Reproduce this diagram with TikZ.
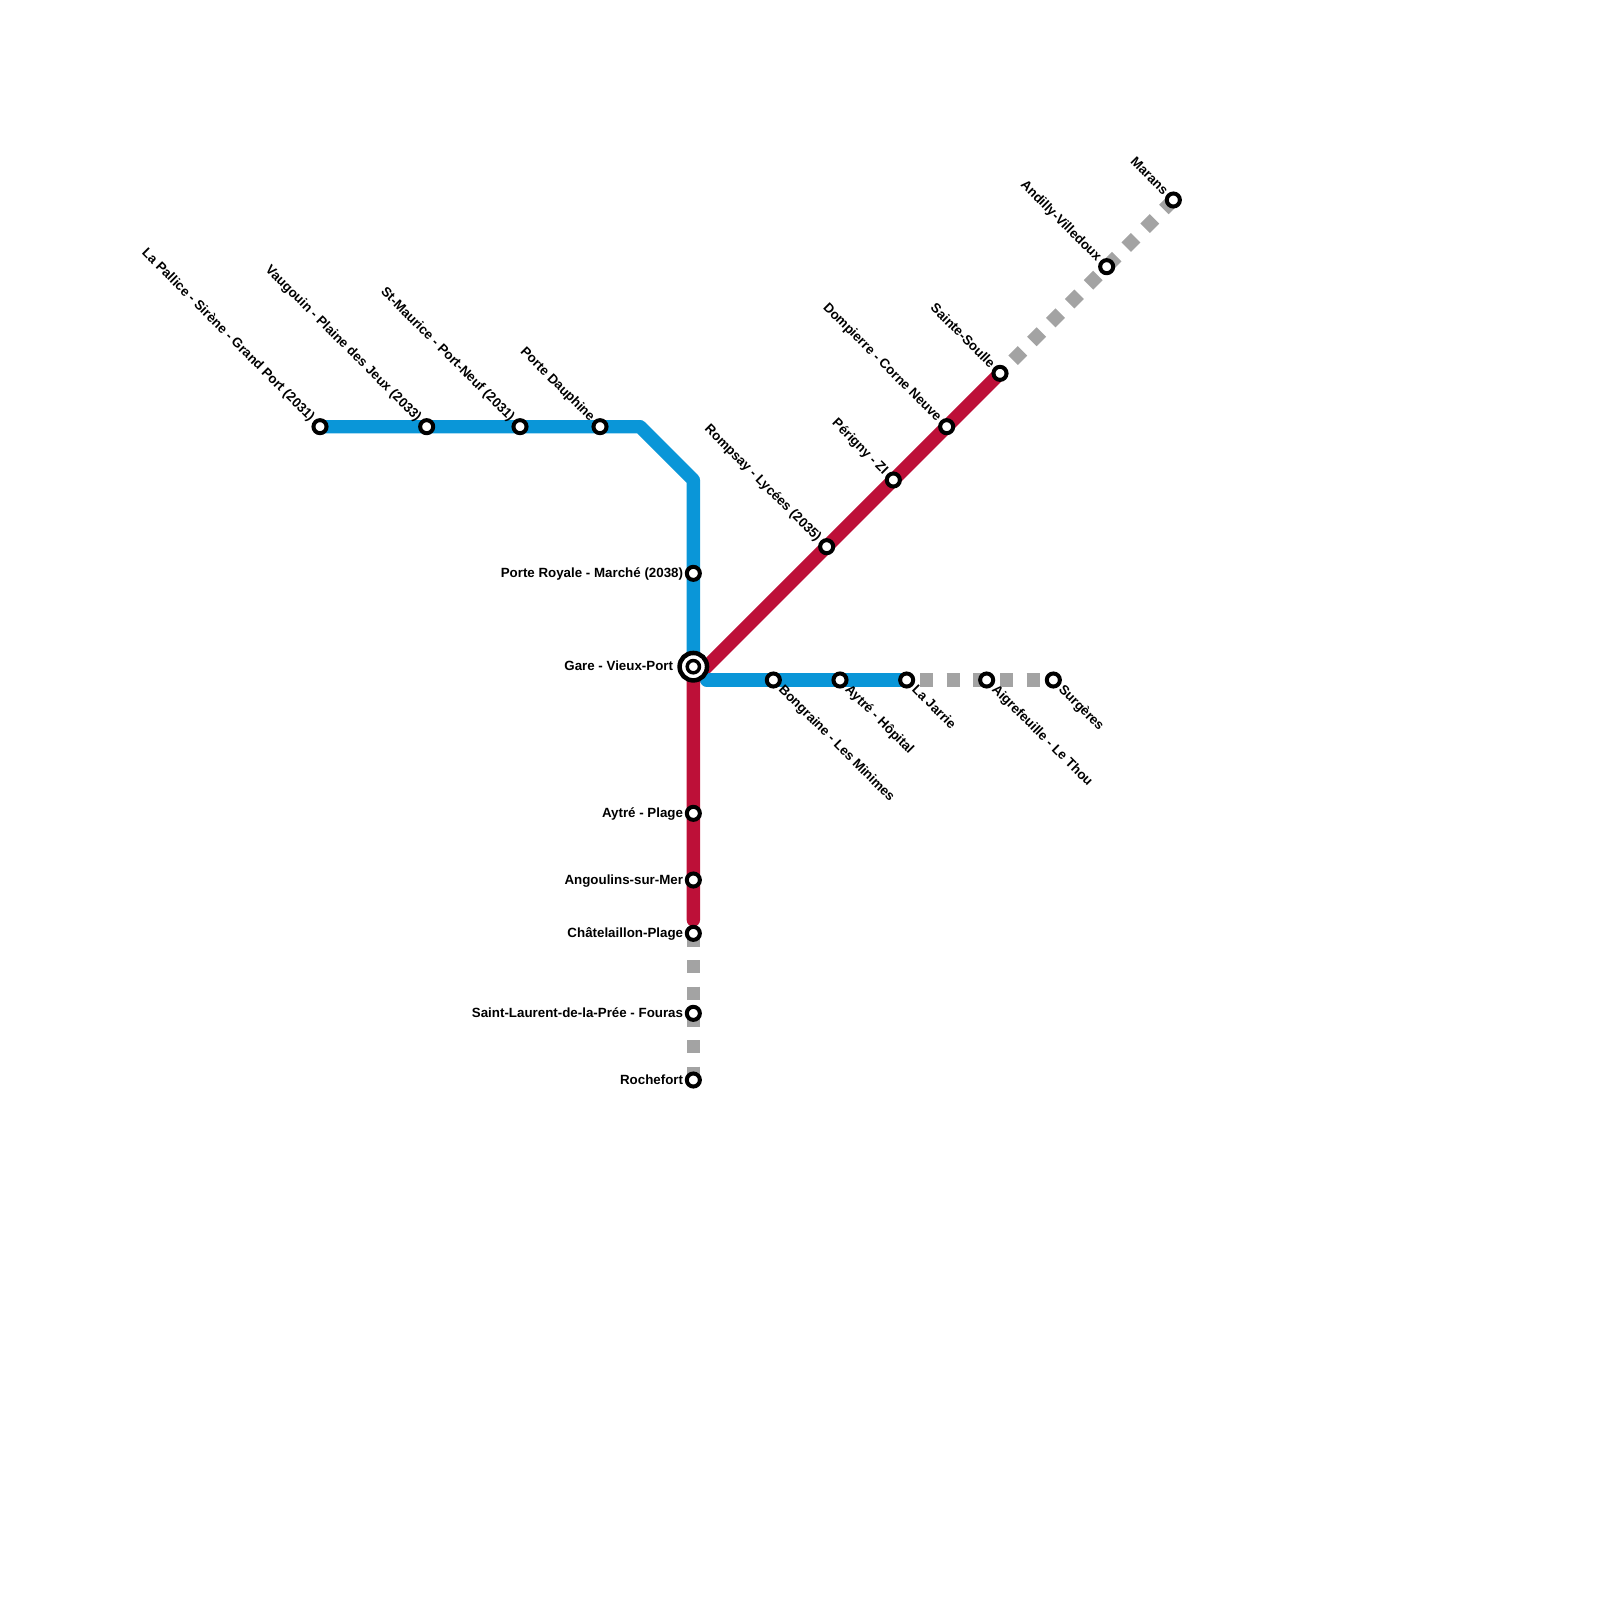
\documentclass[tikz,border=0pt]{standalone}
\usepackage{fontspec}
\setmainfont{Liberation Sans}
\usetikzlibrary{positioning, backgrounds}
\definecolor{linered}{HTML}{BD1038}
\definecolor{lineblue}{HTML}{0A96D8}
\definecolor{linegray}{HTML}{A3A3A3}
\begin{document}
\begin{tikzpicture}[
    x=10pt, y=-10pt,
    font=\bfseries\fontsize{10pt}{12pt}\selectfont,
    stn/.style={circle, draw=black, fill=white, line width=3pt, inner sep=0pt, minimum size=9.8pt},
    hub/.style={circle, draw=black, fill=white, line width=3.4pt, inner sep=0pt, minimum size=20.6pt},
    hubin/.style={circle, draw=black, fill=white, line width=2.6pt, inner sep=0pt, minimum size=9.2pt},
    lbl/.style={inner sep=0pt, text height=8pt, text depth=2pt},
    lblup/.style={lbl, rotate=-45, anchor=east},
    lbldown/.style={lbl, rotate=-45, anchor=west},
    railblue/.style={lineblue, line width=10pt, line cap=round, line join=round},
    railred/.style={linered, line width=10pt, line cap=round, line join=round},
    railgray/.style={linegray, line width=10pt, dash pattern=on 10pt off 10pt},
  ]
    \useasboundingbox (0,0) rectangle (120,120);

    % west branch
    \node[stn] (pallice)  at (24,32) {};
    \node[stn] (vaugouin) at (32,32) {};
    \node[stn] (maurice)  at (39,32) {};
    \node[stn] (dauphine) at (45,32) {};
    \node[stn] (royale)   at (52,43) {};
    \node[hub] (gare)     at (52,50) {};
    \node[hubin] (garein) at (52,50) {};
    % south branch
    \node[stn] (plage)    at (52,61) {};
    \node[stn] (angoulins) at (52,66) {};
    \node[stn] (chatel)   at (52,70) {};
    \node[stn] (fouras)   at (52,76) {};
    \node[stn] (rochefort) at (52,81) {};
    % east branch
    \node[stn] (bongraine) at (58,51) {};
    \node[stn] (hopital)  at (63,51) {};
    \node[stn] (jarrie)   at (68,51) {};
    \node[stn] (aigre)    at (74,51) {};
    \node[stn] (surgeres) at (79,51) {};
    % north-east branch
    \node[stn] (rompsay)  at (62,41) {};
    \node[stn] (perigny)  at (67,36) {};
    \node[stn] (dompierre) at (71,32) {};
    \node[stn] (soulle)   at (75,28) {};
    \node[stn] (andilly)  at (83,20) {};
    \node[stn] (marans)   at (88,15) {};

    % bends
    \coordinate (bendwest) at (48,32);
    \coordinate (bendnorth) at (52,36);
    \coordinate (forkred) at (52,51);
    \coordinate (forkblue) at (53,51);
    \coordinate (endred) at (52,69);

    \begin{scope}[on background layer]
      \draw[railgray] (chatel.center) -- (rochefort.center);
      \draw[railgray, dash phase=10pt] (jarrie.center) -- (surgeres.center);
      \draw[railgray] (marans.center) -- (soulle.center);
      \draw[railred] (endred) -- (forkred) -- (soulle.center);
      \draw[railblue] (pallice.center) -- (bendwest) -- (bendnorth) -- (gare.center);
      \draw[railblue] (forkblue) -- (jarrie.center);
    \end{scope}

    % labels
    \node[lblup] (pallicetxt) at ([shift={(-5.5pt,5.5pt)}]pallice.center) {La Pallice - Sirène - Grand Port (2031)};
    \node[lblup] (vaugouintxt) at ([shift={(-5.5pt,5.5pt)}]vaugouin.center) {Vaugouin - Plaine des Jeux (2033)};
    \node[lblup] (mauricetxt) at ([shift={(-5.5pt,5.5pt)}]maurice.center) {St-Maurice - Port-Neuf (2031)};
    \node[lblup] (dauphinetxt) at ([shift={(-5.5pt,5.5pt)}]dauphine.center) {Porte Dauphine};
    \node[lblup] (rompsaytxt) at ([shift={(-5.5pt,5.5pt)}]rompsay.center) {Rompsay - Lycées (2035)};
    \node[lblup] (perignytxt) at ([shift={(-5.5pt,5.5pt)}]perigny.center) {Périgny - ZI};
    \node[lblup] (dompierretxt) at ([shift={(-5.5pt,5.5pt)}]dompierre.center) {Dompierre - Corne Neuve};
    \node[lblup] (soulletxt) at ([shift={(-5.5pt,5.5pt)}]soulle.center) {Sainte-Soulle};
    \node[lblup] (andillytxt) at ([shift={(-5.5pt,5.5pt)}]andilly.center) {Andilly-Villedoux};
    \node[lblup] (maranstxt) at ([shift={(-5.5pt,5.5pt)}]marans.center) {Marans};

    \node[lbl, left=7.5pt of royale.center] (royaletxt) {Porte Royale - Marché (2038)};
    \node[lbl, left=15pt of gare.center] (garetxt) {Gare - Vieux-Port};
    \node[lbl, left=7.5pt of plage.center] (plagetxt) {Aytré - Plage};
    \node[lbl, left=7.5pt of angoulins.center] (angoulinstxt) {Angoulins-sur-Mer};
    \node[lbl, left=7.5pt of chatel.center] (chateltxt) {Châtelaillon-Plage};
    \node[lbl, left=7.5pt of fouras.center] (fourastxt) {Saint-Laurent-de-la-Prée - Fouras};
    \node[lbl, left=7.5pt of rochefort.center] (rocheforttxt) {Rochefort};

    \node[lbldown] (bongrainetxt) at ([shift={(5.5pt,-5.5pt)}]bongraine.center) {Bongraine - Les Minimes};
    \node[lbldown] (hopitaltxt) at ([shift={(5.5pt,-5.5pt)}]hopital.center) {Aytré - Hôpital};
    \node[lbldown] (jarrietxt) at ([shift={(5.5pt,-5.5pt)}]jarrie.center) {La Jarrie};
    \node[lbldown] (aigretxt) at ([shift={(5.5pt,-5.5pt)}]aigre.center) {Aigrefeuille - Le Thou};
    \node[lbldown] (surgerestxt) at ([shift={(5.5pt,-5.5pt)}]surgeres.center) {Surgères};
\end{tikzpicture}
\end{document}
